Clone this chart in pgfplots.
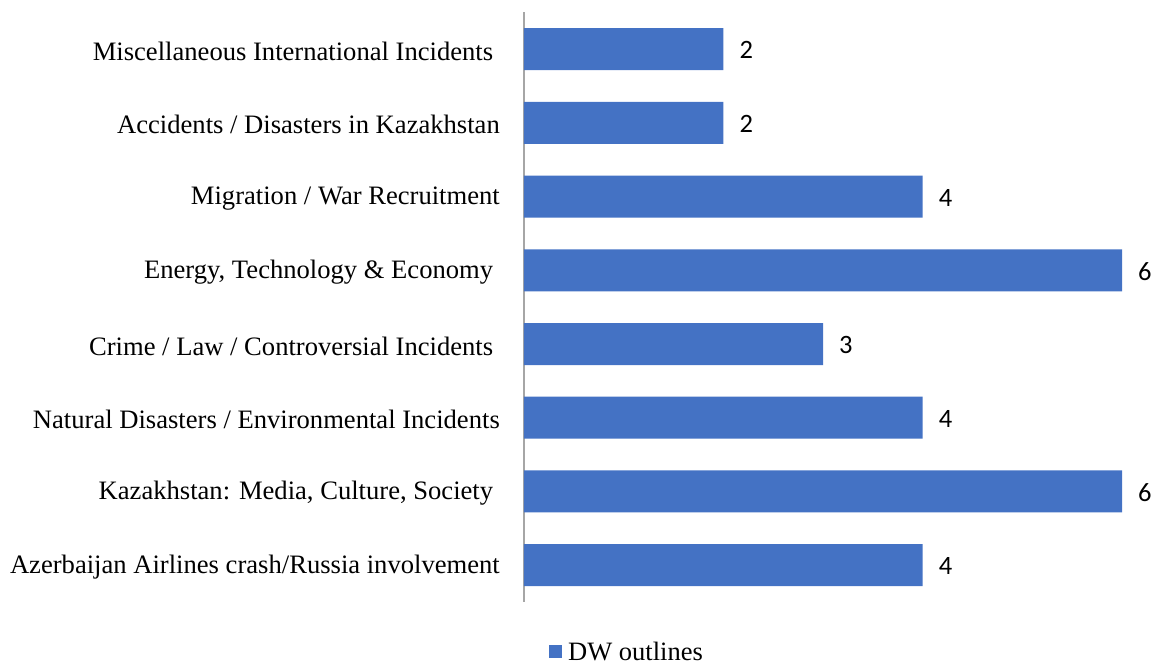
\documentclass[border=0pt]{standalone}
\usepackage{pgfplots}
\pgfplotsset{compat=1.18}
\usepackage{fontspec}
\setmainfont{Liberation Serif}
\newfontfamily\calibri{Carlito}
\definecolor{barblue}{HTML}{4472C4}
\definecolor{axisgray}{HTML}{A6A6A6}
\newcommand{\tsp}{\kern0.25em}
\begin{document}
\begin{tikzpicture}[x=1pt,y=1pt]
\path[use as bounding box] (0,0) rectangle (1154,663);
\begin{axis}[
  at={(524pt,61pt)}, anchor=south west,
  scale only axis, width=598pt, height=589.7pt,
  xmin=0, xmax=6, ymin=-0.5, ymax=7.5,
  xbar, bar width=42pt,
  axis x line=none, axis y line*=left,
  y axis line style={draw=axisgray, line width=1.4pt, -},
  ytick={0,...,7},
  yticklabels={
    Azerbaijan Airlines crash/Russia involvement,
    Kazakhstan: Media{,} Culture{,} Society\tsp,
    Natural Disasters / Environmental Incidents,
    Crime / Law / Controversial Incidents\tsp,
    Energy{,} Technology \& Economy\tsp,
    Migration / War Recruitment,
    Accidents / Disasters in Kazakhstan,
    Miscellaneous International Incidents\tsp},
  major tick length=0pt,
  yticklabel style={font=\fontsize{26.6}{30}\selectfont, inner sep=0pt, xshift=-24pt, yshift=-2pt},
  nodes near coords,
  nodes near coords style={font=\calibri\fontsize{26.5}{30}\selectfont, anchor=west, inner sep=0pt, xshift=16pt, yshift=-1pt, text=black,
    /pgf/number format/assume math mode=true},
  clip=false,
  legend style={at={(0.0418,-0.0845)}, anchor=west, draw=none, inner sep=0pt,
    font=\fontsize{26.5}{30}\selectfont,
    /tikz/every even column/.append style={column sep=0pt}},
  legend image code/.code={\fill[barblue] (0pt,-6.5pt) rectangle (13pt,6.5pt);},
]
\addplot[fill=barblue, draw=none] coordinates {(4,0) (6,1) (4,2) (3,3) (6,4) (4,5) (2,6) (2,7)};
\legend{\kern4pt DW outlines}
\end{axis}
\end{tikzpicture}
\end{document}
